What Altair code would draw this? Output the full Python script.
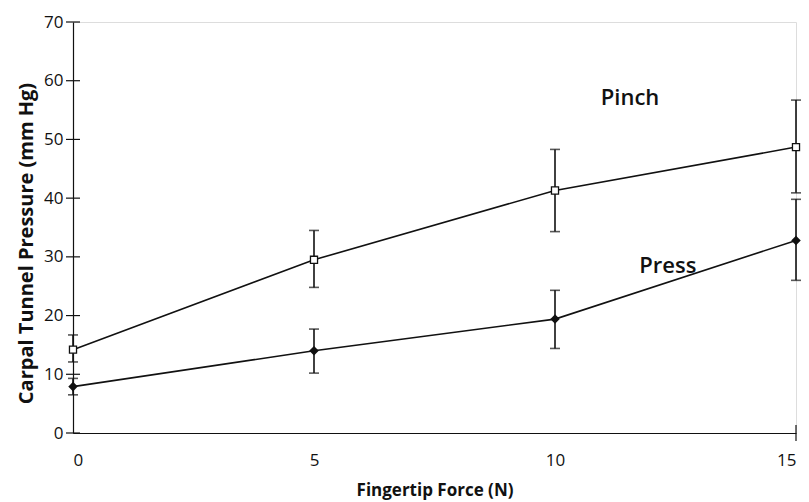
import altair as alt
import pandas as pd

force = [0, 5, 10, 15]
pinch_mean = [14.2, 29.5, 41.3, 48.7]
pinch_lo = [12.1, 24.8, 34.3, 40.9]
pinch_hi = [16.7, 34.5, 48.3, 56.7]
press_mean = [7.9, 14.0, 19.4, 32.8]
press_lo = [6.5, 10.2, 14.4, 26.0]
press_hi = [9.3, 17.7, 24.3, 39.8]

y_ticks = [0, 10, 20, 30, 40, 50, 60, 70]
x_ticks = [0, 5, 10, 15]

labels = ["Pinch", "Press"]
label_x = [10.95, 11.75]
label_y = [57.0, 28.4]

FONT = "Open Sans"
W, H = 723, 411

rows = []
for i, f in enumerate(force):
    rows.append({"force": f, "series": "Pinch", "mean": pinch_mean[i], "lo": pinch_lo[i], "hi": pinch_hi[i]})
    rows.append({"force": f, "series": "Press", "mean": press_mean[i], "lo": press_lo[i], "hi": press_hi[i]})
df = pd.DataFrame(rows)

xs = alt.Scale(domain=[0, 15], nice=False, zero=False)
ys = alt.Scale(domain=[0, 70], nice=False)

xenc = alt.X("force:Q", scale=xs, axis=alt.Axis(
    values=x_ticks, title="Fingertip Force (N)", ticks=False, grid=False,
    labelPadding=19, titlePadding=14, labelFontSize=17, titleFontSize=17,
    labelFont=FONT, titleFont=FONT, titleFontWeight="bold", labelColor="#111",
    titleColor="#111", domainColor="#111", domainWidth=1.2))

base = alt.Chart(df)

whisk = base.mark_rule(color="#111", strokeWidth=1.6).encode(
    x=xenc,
    y=alt.Y("lo:Q", scale=ys, axis=alt.Axis(
        values=y_ticks, title="Carpal Tunnel Pressure (mm Hg)", ticks=False, grid=False,
        labelPadding=10, titlePadding=7, labelFontSize=17, titleFontSize=20, titleY=221,
        labelFont=FONT, titleFont=FONT, titleFontWeight="bold", labelColor="#111",
        titleColor="#111", domainColor="#111", domainWidth=1.2)),
    y2="hi:Q")

cap_lo = base.mark_tick(color="#111", thickness=1.6, size=10, orient="horizontal").encode(
    x=alt.X("force:Q", scale=xs), y=alt.Y("lo:Q", scale=ys))
cap_hi = base.mark_tick(color="#111", thickness=1.6, size=10, orient="horizontal").encode(
    x=alt.X("force:Q", scale=xs), y=alt.Y("hi:Q", scale=ys))

lines = base.mark_line(color="#111", strokeWidth=1.6).encode(
    x=alt.X("force:Q", scale=xs), y=alt.Y("mean:Q", scale=ys), detail="series:N")

pinch_pts = base.transform_filter(alt.datum.series == "Pinch").mark_point(
    shape="square", filled=True, fill="white", stroke="#111", strokeWidth=1.3, size=50, opacity=1).encode(
    x=alt.X("force:Q", scale=xs), y=alt.Y("mean:Q", scale=ys))
press_pts = base.transform_filter(alt.datum.series == "Press").mark_point(
    shape="diamond", filled=True, fill="#111", stroke="#111", size=45, opacity=1).encode(
    x=alt.X("force:Q", scale=xs), y=alt.Y("mean:Q", scale=ys))

ytick_df = pd.DataFrame({"v": y_ticks})
yticks = alt.Chart(ytick_df).mark_rule(color="#111", strokeWidth=1.2).encode(
    y=alt.Y("v:Q", scale=ys), x=alt.value(-7), x2=alt.value(7))

end_df = pd.DataFrame({"v": [15]})
xend = alt.Chart(end_df).mark_rule(color="#111", strokeWidth=1.2).encode(
    x=alt.X("v:Q", scale=xs), y=alt.value(H - 8), y2=alt.value(H + 8))

lab_df = pd.DataFrame({"label": labels, "x": label_x, "y": label_y})
texts = alt.Chart(lab_df).mark_text(align="left", baseline="middle", font=FONT,
                                     fontSize=22, fontWeight=600, color="#111").encode(
    x=alt.X("x:Q", scale=xs), y=alt.Y("y:Q", scale=ys), text="label:N")

chart = alt.layer(whisk, cap_lo, cap_hi, lines, pinch_pts, press_pts, yticks, xend, texts).properties(
    width=W, height=H,
    autosize=alt.AutoSizeParams(type="none"),
    padding={"left": 73, "top": 22, "right": 13, "bottom": 69},
).configure_view(stroke=None).configure(background="white")

chart.save("out.html", embed_options={"renderer": "svg", "actions": False})
